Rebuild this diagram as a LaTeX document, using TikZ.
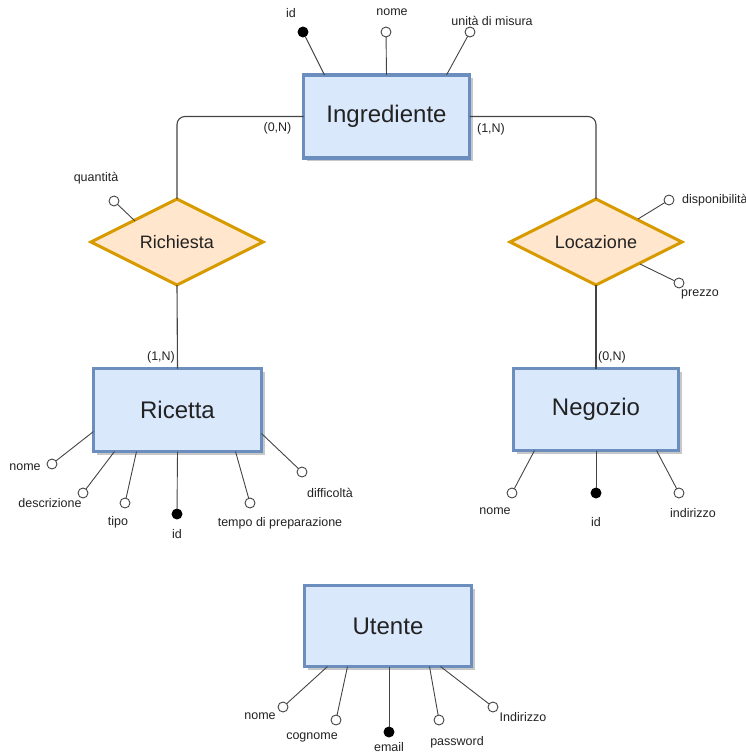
\documentclass[tikz,border=0pt]{standalone}
\usepackage{fontspec}
\setmainfont{Liberation Sans}
\usetikzlibrary{shapes.geometric,calc,shadows}
\definecolor{entfill}{HTML}{DAE8FC}
\definecolor{entdraw}{HTML}{6C8EBF}
\definecolor{relfill}{HTML}{FFE6CC}
\definecolor{reldraw}{HTML}{D79B00}
\definecolor{linec}{HTML}{444444}
\definecolor{txtc}{HTML}{222222}
\tikzset{
  entity/.style={rectangle, draw=entdraw, fill=entfill, line width=3.2pt, outer sep=0pt,
    inner sep=0pt, text=txtc, font=\fontsize{24}{28}\selectfont,
    drop shadow={shadow xshift=3pt, shadow yshift=-3pt, fill=black, opacity=0.22}},
  relation/.style={diamond, draw=reldraw, fill=relfill, line width=3pt, outer sep=0pt,
    inner sep=0pt, aspect=2, minimum width=172pt, minimum height=86pt, text=txtc,
    font=\fontsize{18}{22}\selectfont},
  attr/.style={circle, draw=linec, fill=white, line width=0.9pt, minimum size=10pt,
    inner sep=0pt, outer sep=0pt},
  keyattr/.style={attr, fill=black, draw=black},
  lbl/.style={text=txtc, font=\fontsize{12.5}{14}\selectfont, inner sep=0pt},
  conn/.style={draw=linec, line width=1.1pt},
  aconn/.style={draw=linec, line width=0.9pt}
}
\begin{document}
\begin{tikzpicture}[x=1pt,y=-1pt]
\useasboundingbox (0,0) rectangle (746,755);

% entities
\node[entity, minimum width=166pt, minimum height=83pt] (ingr) at (386.5,116.5) {Ingrediente};
\node[entity, minimum width=168pt, minimum height=83pt] (ric) at (177.5,410) {Ricetta};
\node[entity, minimum width=165pt, minimum height=82pt] (neg) at (596,409.5) {Negozio};
\node[entity, minimum width=167pt, minimum height=81pt] (ute) at (388,626) {Utente};

% relations
\node[relation] (rich) at (177,242) {Richiesta};
\node[relation] (loc) at (596,242) {Locazione};

% relationship connectors
\draw[conn, rounded corners=8pt] (ingr.west) -| (rich.north);
\draw[conn, rounded corners=8pt] (ingr.east) -| (loc.north);
\draw[conn] (rich.south) -- (ric.north);
\draw[conn] (loc.south) -- (neg.north);

% cardinalities
\node[lbl] (c1) at (277.5,128) {(0,N)};
\node[lbl] (c2) at (491,129.5) {(1,N)};
\node[lbl] (c3) at (161,357) {(1,N)};
\node[lbl] (c4) at (612,357) {(0,N)};

% Ingrediente attributes
\node[keyattr] (iid) at (303,32) {};
\node[attr] (inome) at (386,32) {};
\node[attr] (ium) at (470,32) {};
\coordinate (pi1) at ($(ingr.north west)+(21,0)$);
\coordinate (pi2) at (ingr.north);
\coordinate (pi3) at ($(ingr.north east)+(-23,0)$);
\draw[aconn] (pi1) -- (iid);
\draw[aconn] (pi2) -- (inome);
\draw[aconn] (pi3) -- (ium);
\node[lbl] (liid) at (291,13) {id};
\node[lbl] (linome) at (392,12) {nome};
\node[lbl] (lium) at (492,21) {unità di misura};

% Richiesta attribute
\node[attr] (qta) at (114,201) {};
\coordinate (pq) at (135,221);
\draw[aconn] (pq) -- (qta);
\node[lbl] (lqta) at (96,178) {quantità};

% Locazione attributes
\node[attr] (disp) at (669,200) {};
\node[attr] (prez) at (679,283) {};
\coordinate (pd) at (638,219);
\coordinate (pp) at (640,264);
\draw[aconn] (pd) -- (disp);
\draw[aconn] (pp) -- (prez);
\node[lbl, anchor=west] (ldisp) at (682,200) {disponibilità};
\node[lbl] (lprez) at (700,294) {prezzo};

% Ricetta attributes
\node[attr] (rnome) at (52,464) {};
\node[attr] (rdesc) at (83,493) {};
\node[attr] (rtipo) at (125,503) {};
\node[keyattr] (rid) at (177,514) {};
\node[attr] (rtempo) at (250,503) {};
\node[attr] (rdiff) at (302,472) {};
\coordinate (pr1) at ($(ric.south west)+(0,-20)$);
\coordinate (pr2) at ($(ric.south west)+(21,0)$);
\coordinate (pr3) at ($(ric.south west)+(43,0)$);
\coordinate (pr4) at (ric.south);
\coordinate (pr5) at ($(ric.south east)+(-26,0)$);
\coordinate (pr6) at ($(ric.south east)+(0,-18)$);
\draw[aconn] (pr1) -- (rnome);
\draw[aconn] (pr2) -- (rdesc);
\draw[aconn] (pr3) -- (rtipo);
\draw[aconn] (pr4) -- (rid);
\draw[aconn] (pr5) -- (rtempo);
\draw[aconn] (pr6) -- (rdiff);
\node[lbl] (lrnome) at (25,467) {nome};
\node[lbl] (lrdesc) at (50,503) {descrizione};
\node[lbl] (lrtipo) at (118,522) {tipo};
\node[lbl] (lrid) at (177,534) {id};
\node[lbl] (lrtempo) at (280,523) {tempo di preparazione};
\node[lbl] (lrdiff) at (330,493) {difficoltà};

% Negozio attributes
\node[attr] (nnome) at (512,493) {};
\node[keyattr] (nid) at (596,493) {};
\node[attr] (nind) at (679,493) {};
\coordinate (pn1) at ($(neg.south west)+(21,0)$);
\coordinate (pn2) at (neg.south);
\coordinate (pn3) at ($(neg.south east)+(-22,0)$);
\draw[aconn] (pn1) -- (nnome);
\draw[aconn] (pn2) -- (nid);
\draw[aconn] (pn3) -- (nind);
\node[lbl] (lnnome) at (495,511) {nome};
\node[lbl] (lnid) at (596,522) {id};
\node[lbl] (lnind) at (693,513) {indirizzo};

% Utente attributes
\node[attr] (unome) at (283,707) {};
\node[attr] (ucog) at (336,720) {};
\node[keyattr] (uemail) at (389,732) {};
\node[attr] (upass) at (439,720) {};
\node[attr] (uind) at (493,707) {};
\coordinate (pu1) at ($(ute.south west)+(23,0)$);
\coordinate (pu2) at ($(ute.south west)+(43,0)$);
\coordinate (pu3) at ($(ute.south)+(1,0)$);
\coordinate (pu4) at ($(ute.south east)+(-42,0)$);
\coordinate (pu5) at ($(ute.south east)+(-31,0)$);
\draw[aconn] (pu1) -- (unome);
\draw[aconn] (pu2) -- (ucog);
\draw[aconn] (pu3) -- (uemail);
\draw[aconn] (pu4) -- (upass);
\draw[aconn] (pu5) -- (uind);
\node[lbl] (lunome) at (260,716) {nome};
\node[lbl] (lucog) at (312,737) {cognome};
\node[lbl] (luemail) at (389,747) {email};
\node[lbl] (lupass) at (457,742) {password};
\node[lbl] (luind) at (523,717) {Indirizzo};
\end{tikzpicture}
\end{document}
